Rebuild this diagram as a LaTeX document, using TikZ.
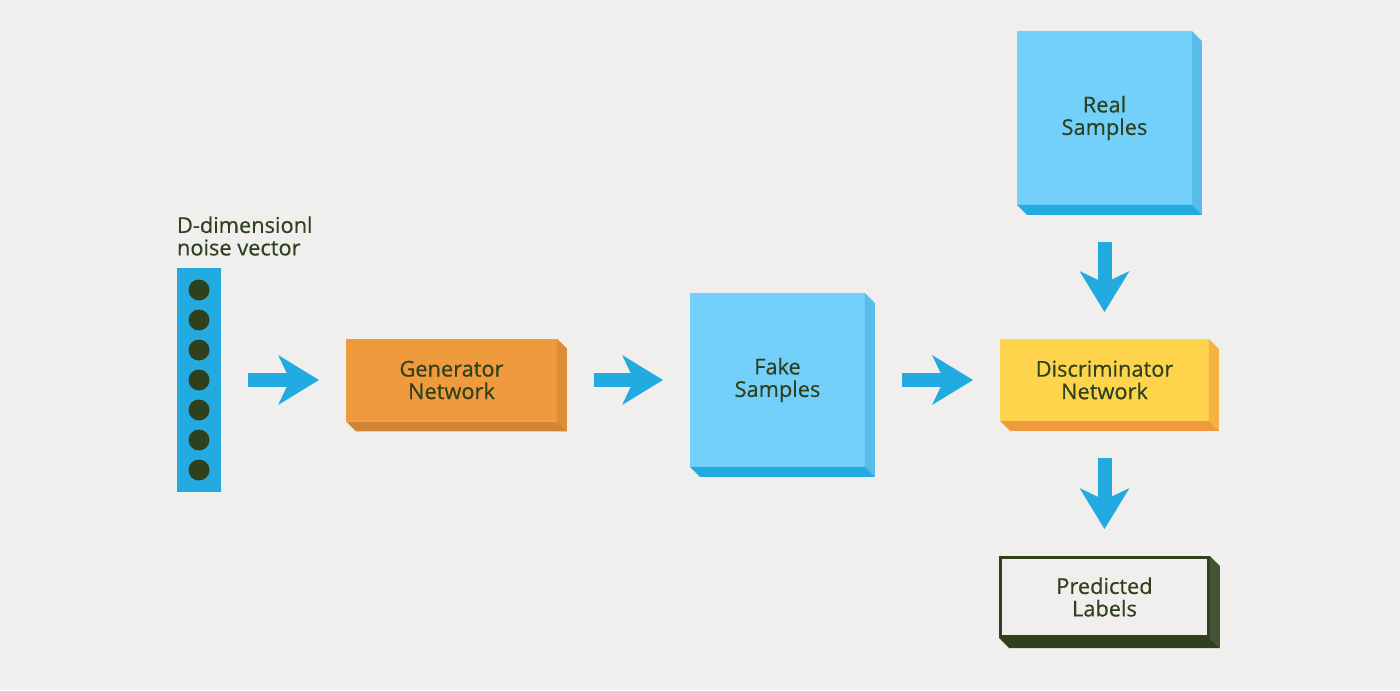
\documentclass[tikz,border=0pt]{standalone}
\usepackage{fontspec}
\setmainfont{Open Sans}
\newfontfamily\boxfont[FakeBold=0.4]{Open Sans}
\usetikzlibrary{arrows.meta,calc}
\definecolor{paper}{HTML}{F0EFED}
\definecolor{vivid}{HTML}{23AAE1}
\definecolor{sky}{HTML}{72D0FA}
\definecolor{skyside}{HTML}{58BDE9}
\definecolor{tangerine}{HTML}{EE9A3D}
\definecolor{tangerinedark}{HTML}{D08434}
\definecolor{lemon}{HTML}{FDD44B}
\definecolor{lemonside}{HTML}{F4B443}
\definecolor{moss}{HTML}{2E401D}
\def\slab[#1][#2](#3)% Syntax: [side colour][bottom colour] (node), depth 10px
{ \fill[#1] (#3.north east) -- ++(10,10) -- ($(#3.south east)+(10,10)$) -- (#3.south east) -- cycle;
  \fill[#2] (#3.south west) -- ($(#3.south west)+(10,10)$) -- ($(#3.south east)+(10,10)$) -- (#3.south east) -- cycle; }

\begin{document}
\begin{tikzpicture}[x=0.02cm, y=-0.02cm,
	block/.style={inner sep=0pt, outer sep=0pt, align=center, text=moss, font=\boxfont\fontsize{12.4}{12.8}\selectfont},
	flow/.style={vivid, line width=0.28cm, -{Stealth[length=0.82cm, width=1cm, inset=0.24cm, line width=0pt]}, shorten <=0.74cm, shorten >=0.54cm}]
	%background
	\fill[paper] (0,0) rectangle (1400,690);
	\useasboundingbox (0,0) rectangle (1400,690);
	
	%noise vector
	\node[block, fill=vivid, minimum width=0.88cm, minimum height=4.48cm] (vec) at (199,380) {};
	\foreach \k in {0,...,6}
		\fill[moss] (199,290+30*\k) circle (0.21cm);
	\node[block, anchor=west, align=left] (noise) at (177,236) {D-dimensionl\\noise vector};
	
	%Generator
	\node[block, fill=tangerine, minimum width=4.22cm, minimum height=1.66cm] (gen) at (451.5,380) {Generator\\Network};
	\slab[tangerine!92!black][tangerinedark](gen)
	
	%Fake
	\node[block, fill=sky, minimum width=3.5cm, minimum height=3.48cm] (fake) at (777.5,380) {Fake\\Samples};
	\slab[skyside][vivid](fake)
	
	%Real
	\node[block, fill=sky, minimum width=3.5cm, minimum height=3.48cm] (real) at (1104.5,118) {Real\\Samples};
	\slab[skyside][vivid](real)
	
	%Discriminator
	\node[block, fill=lemon, minimum width=4.18cm, minimum height=1.64cm] (disc) at (1104.5,380) {Discriminator\\Network};
	\slab[lemonside][tangerine](disc)
	
	%Predicted labels
	\node[block, fill=paper, draw=moss, line width=0.06cm, outer sep=0.03cm, minimum width=4.16cm, minimum height=1.58cm] (pred) at (1104.5,597) {Predicted\\Labels};
	\slab[moss!90!white][moss](pred)
	
	%arrows
	\draw[flow, shorten <=0.54cm] (vec) -- (gen);
	\draw[flow] (gen) -- (fake);
	\draw[flow] (fake) -- (disc);
	\draw[flow] (real) -- (disc);
	\draw[flow] (disc) -- (pred);
\end{tikzpicture}
\end{document}
